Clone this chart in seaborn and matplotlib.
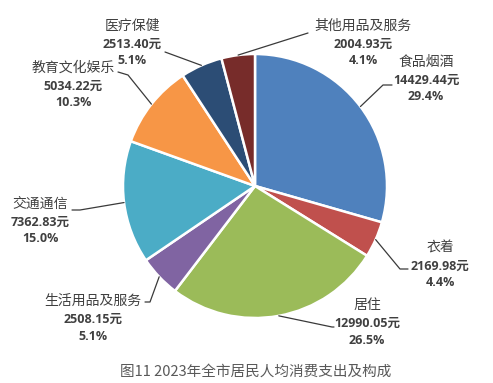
import matplotlib
matplotlib.use('Agg')
import matplotlib.pyplot as plt
import seaborn as sns
import numpy as np

sns.set_style('white')
plt.rcParams['font.family'] = ['Noto Sans CJK SC', 'DejaVu Sans']

# data
categories = ['食品烟酒', '衣着', '居住', '生活用品及服务', '交通通信', '教育文化娱乐', '医疗保健', '其他用品及服务']
values = [14429.44, 2169.98, 12990.05, 2508.15, 7362.83, 5034.22, 2513.40, 2004.93]
colors = ['#4F81BD', '#C0504D', '#9BBB59', '#8064A2', '#4BACC6', '#F79646', '#2C4D75', '#772C2A']
title = '图11 2023年全市居民人均消费支出及构成'

# layout of labels in pixels: text centre x, name line y, elbow point, line end
W, H = 493, 383
cx, cy, R = 255, 186, 132
label_xy = [(426, 62), (440, 248), (367, 305), (93, 301), (40, 204), (73, 68), (132, 26), (363, 26)]
elbow = [(383, 85), (400, 269), (332, 327), (150, 302), (80, 210), (128, 75), (165, 52), (308, 33)]
line_end = [(392, 85), (408, 269), (334, 327), (145, 302), (72, 210), (118, 72), (165, 52), (308, 33)]

def px(x, y):
    return ((x - cx) / R, (cy - y) / R)

fig = plt.figure(figsize=(W / 100, H / 100), dpi=100)
ax = fig.add_axes([0, 0, 1, 1])
wedges, _ = ax.pie(values, colors=colors, startangle=90, counterclock=False, radius=1,
                   wedgeprops=dict(edgecolor='white', linewidth=1.8))
ax.set_xlim(-cx / R, (W - cx) / R)
ax.set_ylim(-(H - cy) / R, cy / R)
ax.axis('off')

total = sum(values)
for i, w in enumerate(wedges):
    ang = np.deg2rad((w.theta1 + w.theta2) / 2)
    x0, y0 = np.cos(ang), np.sin(ang)
    ex, ey = px(*elbow[i])
    lx, ly = px(*line_end[i])
    ax.plot([x0, ex, lx], [y0, ey, ly], color='#3a3a3a', lw=0.9, zorder=3)

    tx, ty = label_xy[i]
    ax.text(*px(tx, ty), categories[i], ha='center', va='center', fontsize=10, color='#404040')
    ax.text(*px(tx, ty + 18), f'{values[i]:.2f}元', ha='center', va='center', fontsize=9,
            fontweight='bold', color='#404040', family=['Open Sans', 'Noto Sans CJK SC'])
    ax.text(*px(tx, ty + 35), f'{values[i] / total * 100:.1f}%', ha='center', va='center', fontsize=9,
            fontweight='bold', color='#404040', family=['Open Sans', 'Noto Sans CJK SC'])

ax.text(*px(256, 372), title, ha='center', va='center', fontsize=10.5, color='#595959')

fig.savefig('out.png', dpi=100, facecolor='white')
